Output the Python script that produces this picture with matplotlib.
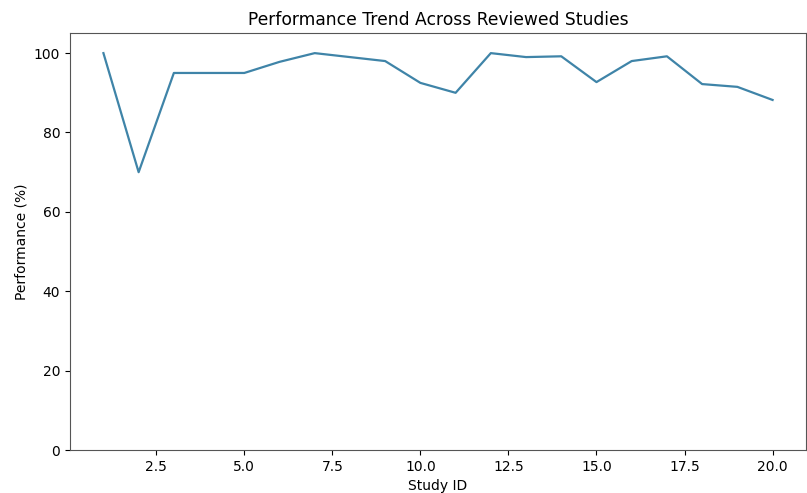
import matplotlib
matplotlib.use("Agg")
import matplotlib.pyplot as plt

study_ids = list(range(1, 21))
performance = [100, 70, 95, 95, 95, 97.8, 100, 99, 98, 92.5,
               90, 100, 99, 99.2, 92.7, 98, 99.2, 92.2, 91.5, 88.2]

fig = plt.figure(figsize=(8.07, 4.93), dpi=100)
ax = fig.add_axes([0.0867, 0.0872, 0.9121, 0.8453])
ax.plot(study_ids, performance, color="#3f84a8", linewidth=1.6)
ax.set_ylim(0, 105)
ax.set_title("Performance Trend Across Reviewed Studies", fontsize=12.3, pad=6)
ax.set_xlabel("Study ID", fontsize=10, labelpad=4)
ax.set_ylabel("Performance (%)", fontsize=10)
ax.tick_params(labelsize=10)
for s in ax.spines.values():
    s.set_color("#555555")
fig.savefig("out.png", dpi=100)
